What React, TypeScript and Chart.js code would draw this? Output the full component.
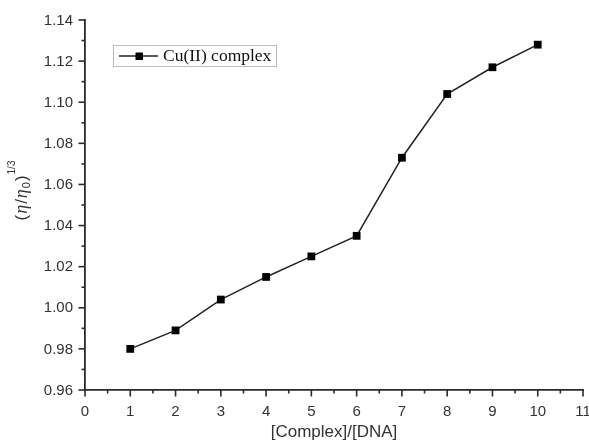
import React, { useEffect, useRef } from "react";
import { Chart, registerables } from "chart.js";

Chart.register(...registerables);

const ratios = [1, 2, 3, 4, 5, 6, 7, 8, 9, 10];
const viscosity = [0.98, 0.989, 1.004, 1.015, 1.025, 1.035, 1.073, 1.104, 1.117, 1.128];
const seriesName = "Cu(II) complex";
const xTicks = [0, 1, 2, 3, 4, 5, 6, 7, 8, 9, 10, 11];
const yTicks = [0.96, 0.98, 1.0, 1.02, 1.04, 1.06, 1.08, 1.1, 1.12, 1.14];
const xTitle = "[Complex]/[DNA]";

const SANS = "'Liberation Sans', Arial, sans-serif";
const SERIF = "'Liberation Serif', 'Times New Roman', serif";
const AXIS = "#2a2a2a";
const TEXT = "#333";

const decorPlugin = {
  id: "decor",
  afterDraw(chart: any) {
    const ctx = chart.ctx as CanvasRenderingContext2D;
    const xs = chart.scales.x;
    const ys = chart.scales.y;
    const area = chart.chartArea;
    ctx.save();
    ctx.strokeStyle = AXIS;
    ctx.lineWidth = 1.6;
    // y ticks
    for (let i = 0; i < yTicks.length; i++) {
      const v = yTicks[i];
      const py = ys.getPixelForValue(v);
      ctx.beginPath();
      ctx.moveTo(area.left, py);
      ctx.lineTo(area.left - 6.5, py);
      ctx.stroke();
      if (i < yTicks.length - 1) {
        const my = ys.getPixelForValue((v + yTicks[i + 1]) / 2);
        ctx.beginPath();
        ctx.moveTo(area.left, my);
        ctx.lineTo(area.left - 3.5, my);
        ctx.stroke();
      }
      ctx.fillStyle = TEXT;
      ctx.font = `15px ${SANS}`;
      ctx.textAlign = "right";
      ctx.textBaseline = "middle";
      ctx.fillText(v.toFixed(2), area.left - 12, py + 0.5);
    }
    // x ticks
    for (let i = 0; i < xTicks.length; i++) {
      const v = xTicks[i];
      const px = xs.getPixelForValue(v);
      ctx.beginPath();
      ctx.moveTo(px, area.bottom);
      ctx.lineTo(px, area.bottom + 6.5);
      ctx.stroke();
      if (i < xTicks.length - 1) {
        const mx = xs.getPixelForValue((v + xTicks[i + 1]) / 2);
        ctx.beginPath();
        ctx.moveTo(mx, area.bottom);
        ctx.lineTo(mx, area.bottom + 3.5);
        ctx.stroke();
      }
      ctx.fillStyle = TEXT;
      ctx.font = `15px ${SANS}`;
      ctx.textAlign = "center";
      ctx.textBaseline = "top";
      ctx.fillText(String(v), px, area.bottom + 14);
    }
    // x title
    ctx.font = `17px ${SANS}`;
    ctx.textAlign = "center";
    ctx.textBaseline = "middle";
    ctx.fillStyle = TEXT;
    ctx.fillText(xTitle, 334, 432);

    // y title (rotated) : (η/η0)^1/3
    ctx.save();
    ctx.translate(22, 190);
    ctx.rotate(-Math.PI / 2);
    const pieces: { t: string; f: string; dy: number }[] = [
      { t: "(", f: `17px ${SANS}`, dy: 0 },
      { t: "\u03B7", f: `italic 18px ${SERIF}`, dy: 0 },
      { t: "/", f: `17px ${SANS}`, dy: 0 },
      { t: "\u03B7", f: `italic 18px ${SERIF}`, dy: 0 },
      { t: "0", f: `11px ${SANS}`, dy: 5 },
      { t: ")", f: `17px ${SANS}`, dy: 0 },
      { t: "1/3", f: `10px ${SANS}`, dy: -10 },
    ];
    let total = 0;
    for (const p of pieces) {
      ctx.font = p.f;
      total += ctx.measureText(p.t).width + 1;
    }
    let cx = -total / 2;
    ctx.textAlign = "left";
    ctx.textBaseline = "middle";
    for (const p of pieces) {
      ctx.font = p.f;
      ctx.fillText(p.t, cx, p.dy);
      cx += ctx.measureText(p.t).width + 1;
    }
    ctx.restore();

    // legend
    const lx = 113.5, ly = 45.5, lw = 163, lh = 21;
    ctx.strokeStyle = "#bdbdbd";
    ctx.lineWidth = 1;
    ctx.strokeRect(lx, ly, lw, lh);
    ctx.strokeStyle = "#222";
    ctx.lineWidth = 1.5;
    ctx.beginPath();
    ctx.moveTo(119, 56);
    ctx.lineTo(158, 56);
    ctx.stroke();
    ctx.fillStyle = "#000";
    ctx.fillRect(135.5, 52.5, 7.5, 7.5);
    ctx.font = `17.5px ${SERIF}`;
    ctx.fillStyle = "#111";
    ctx.textBaseline = "middle";
    ctx.textAlign = "left";
    ctx.fillText(seriesName, 163, 56.5);
    ctx.restore();
  },
};

export default function App() {
  const ref = useRef<HTMLCanvasElement | null>(null);
  useEffect(() => {
    if (!ref.current) return;
    const chart = new Chart(ref.current, {
      type: "line",
      data: {
        datasets: [
          {
            label: seriesName,
            data: ratios.map((x, i) => ({ x, y: viscosity[i] })),
            borderColor: "#222",
            borderWidth: 1.5,
            pointStyle: "rect",
            pointRadius: 5.5,
            pointBackgroundColor: "#000",
            pointBorderColor: "#000",
            pointBorderWidth: 0,
            tension: 0,
          },
        ],
      },
      options: {
        animation: false,
        responsive: false,
        layout: { padding: { top: 20, right: 6, left: 0, bottom: 0 } },
        plugins: { legend: { display: false }, tooltip: { enabled: false } },
        scales: {
          x: {
            type: "linear",
            min: 0,
            max: 11,
            grid: { display: false },
            ticks: { display: false },
            border: { display: true, color: AXIS, width: 1.8 },
            afterFit: (s: any) => {
              s.height = 54;
            },
          },
          y: {
            type: "linear",
            min: 0.96,
            max: 1.14,
            grid: { display: false },
            ticks: { display: false },
            border: { display: true, color: AXIS, width: 1.8 },
            afterFit: (s: any) => {
              s.width = 85;
            },
          },
        },
      },
      plugins: [decorPlugin],
    } as any);
    return () => chart.destroy();
  }, []);
  return (
    <div style={{ position: "fixed", left: 0, top: 0, width: 589, height: 444, background: "#fff" }}>
      <canvas ref={ref} width={589} height={444} style={{ width: 589, height: 444 }} />
    </div>
  );
}
